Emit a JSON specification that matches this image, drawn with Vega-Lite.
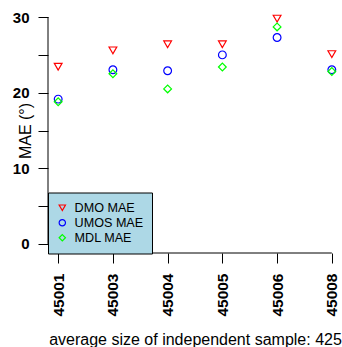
{
  "$schema": "https://vega.github.io/schema/vega-lite/v6.json",
  "width": 294,
  "height": 245,
  "autosize": {"type": "none"},
  "padding": {"left": 48, "top": 8, "right": 0, "bottom": 94},
  "background": "white",
  "config": {"view": {"stroke": null}, "font": "Liberation Sans"},
  "resolve": {"scale": {"x": "independent"}, "axis": {"x": "independent"}},
  "layer": [
    {
      "data": {"values": [{"from": "45001", "to": "45008", "level": -1.2}]},
      "mark": {"type": "rule", "color": "black", "strokeWidth": 1},
      "encoding": {
        "x": {"field": "from", "type": "nominal", "scale": {"type": "point", "padding": 0.186, "domain": ["45001", "45003", "45004", "45005", "45006", "45008"]}, "axis": null},
        "x2": {"field": "to"},
        "y": {"field": "level", "type": "quantitative", "scale": {"domain": [-1.2, 31.2], "nice": false, "zero": false}}
      }
    },
    {
      "data": {"values": [{"pos": 0, "lo": 0, "hi": 30}]},
      "mark": {"type": "rule", "color": "black", "strokeWidth": 1},
      "encoding": {
        "x": {"field": "pos", "type": "quantitative", "scale": {"domain": [0, 1]}, "axis": null},
        "y": {"field": "lo", "type": "quantitative"},
        "y2": {"field": "hi"}
      }
    },
    {
      "data": {
        "values": [
          {"station": "45001", "series": "DMO MAE", "mae": 23.43},
          {"station": "45001", "series": "UMOS MAE", "mae": 19.15},
          {"station": "45001", "series": "MDL MAE", "mae": 18.8},
          {"station": "45003", "series": "DMO MAE", "mae": 25.6},
          {"station": "45003", "series": "UMOS MAE", "mae": 23.03},
          {"station": "45003", "series": "MDL MAE", "mae": 22.5},
          {"station": "45004", "series": "DMO MAE", "mae": 26.4},
          {"station": "45004", "series": "UMOS MAE", "mae": 22.9},
          {"station": "45004", "series": "MDL MAE", "mae": 20.5},
          {"station": "45005", "series": "DMO MAE", "mae": 26.4},
          {"station": "45005", "series": "UMOS MAE", "mae": 25.0},
          {"station": "45005", "series": "MDL MAE", "mae": 23.4},
          {"station": "45006", "series": "DMO MAE", "mae": 29.8},
          {"station": "45006", "series": "UMOS MAE", "mae": 27.3},
          {"station": "45006", "series": "MDL MAE", "mae": 28.7},
          {"station": "45008", "series": "DMO MAE", "mae": 25.1},
          {"station": "45008", "series": "UMOS MAE", "mae": 23.03},
          {"station": "45008", "series": "MDL MAE", "mae": 22.8}
        ]
      },
      "mark": {"type": "point", "filled": false, "strokeWidth": 1.2, "size": 60, "opacity": 1},
      "encoding": {
        "x": {
          "field": "station", "type": "nominal",
          "scale": {"type": "point", "padding": 0.186, "domain": ["45001", "45003", "45004", "45005", "45006", "45008"]},
          "axis": {
            "title": "average size of independent sample: 425",
            "labelAngle": -90, "domain": false, "grid": false,
            "tickSize": 10, "tickColor": "black", "tickWidth": 1,
            "labelFont": "Liberation Sans", "labelFontWeight": "bold", "labelFontSize": 15.5, "labelColor": "black", "labelPadding": 10,
            "titleFont": "Liberation Sans", "titleFontWeight": "normal", "titleFontSize": 16, "titleColor": "black", "titlePadding": 15
          }
        },
        "y": {
          "field": "mae", "type": "quantitative",
          "scale": {"domain": [-1.2, 31.2], "nice": false, "zero": false},
          "axis": {
            "title": "MAE (°)",
            "values": [0, 5, 10, 15, 20, 25, 30],
            "labelExpr": "datum.value % 10 === 0 ? datum.label : ''",
            "domain": false, "grid": false,
            "tickSize": 10, "tickColor": "black", "tickWidth": 1,
            "labelFont": "Liberation Sans", "labelFontWeight": "bold", "labelFontSize": 15, "labelColor": "black", "labelPadding": 9,
            "titleFont": "Liberation Sans", "titleFontWeight": "normal", "titleFontSize": 16, "titleColor": "black",
            "titleX": -23, "titleY": 122.5, "titleAngle": -90, "titleAlign": "center", "titleBaseline": "middle"
          }
        },
        "color": {
          "field": "series", "type": "nominal",
          "scale": {"domain": ["DMO MAE", "UMOS MAE", "MDL MAE"], "range": ["#ff0000", "#0000ff", "#00ff00"]},
          "legend": {
            "title": null, "orient": "none", "legendX": 0, "legendY": 184.5,
            "fillColor": "#add8e6", "strokeColor": "black", "cornerRadius": 0,
            "padding": 8, "rowPadding": 0, "clipHeight": 14.5, "symbolSize": 40, "symbolStrokeWidth": 1.2,
            "symbolOffset": 0, "labelOffset": 6,
            "labelFont": "Liberation Sans", "labelFontSize": 12.6, "labelColor": "black"
          }
        },
        "shape": {
          "field": "series", "type": "nominal",
          "scale": {"domain": ["DMO MAE", "UMOS MAE", "MDL MAE"], "range": ["triangle-down", "circle", "diamond"]}
        }
      }
    }
  ]
}
